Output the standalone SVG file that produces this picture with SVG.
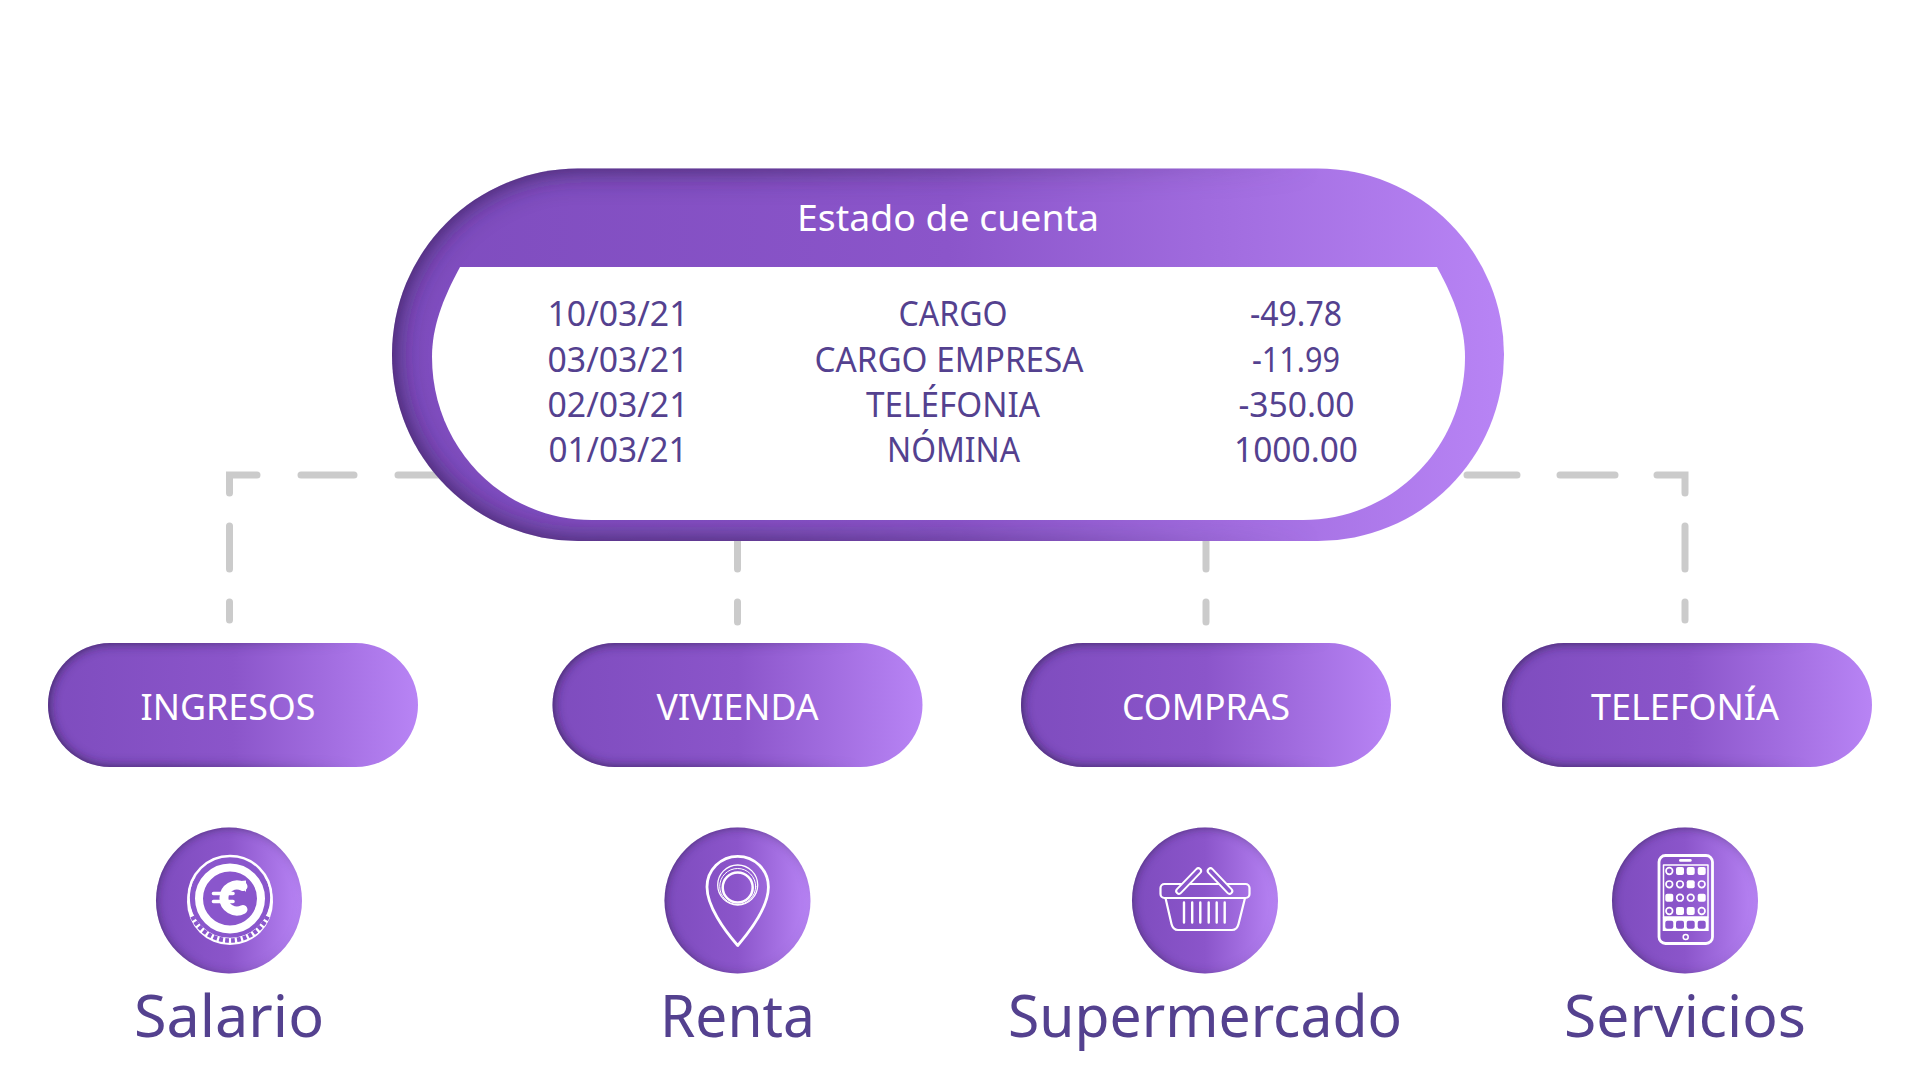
<svg xmlns="http://www.w3.org/2000/svg" width="1920" height="1080" viewBox="0 0 1920 1080">
<style>
text{font-family:"Noto Sans","Open Sans","Liberation Sans",sans-serif;text-anchor:middle}
.wl{fill:#fff;font-size:37px;font-weight:400}
.row{fill:#54418f;font-size:34px;font-weight:400}
.cap{fill:#54418f;font-size:58px;font-weight:400}
.dash{fill:none;stroke:#cbcbcb;stroke-width:7;stroke-linecap:round;stroke-linejoin:miter}
.ic{fill:none;stroke:#fff;stroke-linecap:round;stroke-linejoin:round}
.w{fill:#fff}
.p{fill:#8a56cc}
</style>
<defs>
<linearGradient id="g" x1="0" y1="0" x2="1" y2="0">
<stop offset="0" stop-color="#7e4cbe"/><stop offset=".5" stop-color="#8b55ca"/><stop offset="1" stop-color="#b884f5"/>
</linearGradient>
<linearGradient id="fadeG" x1="0" y1="0" x2="1" y2="0">
<stop offset="0" stop-color="#fff"/><stop offset=".35" stop-color="#ccc"/><stop offset=".78" stop-color="#000"/>
</linearGradient>
<linearGradient id="fadeC" x1="0" y1="0" x2="1" y2=".4">
<stop offset="0" stop-color="#bbb"/><stop offset=".5" stop-color="#999"/><stop offset=".95" stop-color="#111"/>
</linearGradient>
<mask id="fade" maskContentUnits="objectBoundingBox"><rect x="-.1" y="-.1" width="1.2" height="1.2" fill="url(#fadeG)"/></mask>
<mask id="fadeCir" maskContentUnits="objectBoundingBox"><rect x="-.1" y="-.1" width="1.2" height="1.2" fill="url(#fadeC)"/></mask>
<filter id="inL" x="-10%" y="-20%" width="120%" height="140%">
<feFlood flood-color="#2a1a48"/><feComposite operator="out" in2="SourceAlpha"/><feGaussianBlur stdDeviation="15"/><feComposite operator="in" in2="SourceAlpha"/>
</filter>
<filter id="inM" x="-10%" y="-30%" width="120%" height="160%">
<feFlood flood-color="#2a1a48"/><feComposite operator="out" in2="SourceAlpha"/><feGaussianBlur stdDeviation="6"/><feComposite operator="in" in2="SourceAlpha"/>
</filter>
<filter id="inS" x="-30%" y="-30%" width="160%" height="160%">
<feFlood flood-color="#2a1a48"/><feComposite operator="out" in2="SourceAlpha"/><feGaussianBlur stdDeviation="5"/><feComposite operator="in" in2="SourceAlpha"/>
</filter>
</defs>
<rect width="1920" height="1080" fill="#fff"/>

<g id="connectors">
<path class="dash" d="M229.500 620V602M229.500 569V526M229.500 493V475H257M301 475H354M398 475H445"/>
<path class="dash" d="M737.500 535V569M737.500 602V622"/>
<path class="dash" d="M1206 535V569M1206 602V622"/>
<path class="dash" d="M1685 620V602M1685 569V526M1685 493V475H1657M1615 475H1560M1517 475H1467"/>
</g>

<g id="estado">
<rect x="392" y="168.500" width="1112" height="372.500" rx="186" fill="url(#g)"/>
<rect x="392" y="168.500" width="1112" height="372.500" rx="186" filter="url(#inL)" mask="url(#fade)"/>
<path class="w" d="M460 267H1437C1455 300 1465 328 1465 357C1465 447 1393 520 1303 520H592C502 520 432 447 432 357C432 328 442 300 460 267Z"/>
<text class="wl" x="948" y="231" textLength="302" lengthAdjust="spacingAndGlyphs">Estado de cuenta</text>
<text class="row" x="618" y="326" textLength="141" lengthAdjust="spacingAndGlyphs">10/03/21</text>
<text class="row" x="618" y="372" textLength="141" lengthAdjust="spacingAndGlyphs">03/03/21</text>
<text class="row" x="618" y="417" textLength="141" lengthAdjust="spacingAndGlyphs">02/03/21</text>
<text class="row" x="618" y="462" textLength="139" lengthAdjust="spacingAndGlyphs">01/03/21</text>
<text class="row" x="953" y="326" textLength="109" lengthAdjust="spacingAndGlyphs">CARGO</text>
<text class="row" x="949" y="372" textLength="269" lengthAdjust="spacingAndGlyphs">CARGO EMPRESA</text>
<text class="row" x="953" y="417" textLength="174" lengthAdjust="spacingAndGlyphs">TELÉFONIA</text>
<text class="row" x="953.500" y="462" textLength="133" lengthAdjust="spacingAndGlyphs">NÓMINA</text>
<text class="row" x="1296" y="326" textLength="92" lengthAdjust="spacingAndGlyphs">-49.78</text>
<text class="row" x="1296" y="372" textLength="88" lengthAdjust="spacingAndGlyphs">-11.99</text>
<text class="row" x="1296.500" y="417" textLength="116" lengthAdjust="spacingAndGlyphs">-350.00</text>
<text class="row" x="1296" y="462" textLength="124" lengthAdjust="spacingAndGlyphs">1000.00</text>
</g>

<g id="ingresos">
<rect x="48" y="643" width="370" height="124" rx="62" fill="url(#g)"/>
<rect x="48" y="643" width="370" height="124" rx="62" filter="url(#inM)" mask="url(#fade)"/>
<text class="wl" x="228" y="720" textLength="175" lengthAdjust="spacingAndGlyphs">INGRESOS</text>
</g>
<g id="vivienda">
<rect x="552.500" y="643" width="370" height="124" rx="62" fill="url(#g)"/>
<rect x="552.500" y="643" width="370" height="124" rx="62" filter="url(#inM)" mask="url(#fade)"/>
<text class="wl" x="737.500" y="720" textLength="162" lengthAdjust="spacingAndGlyphs">VIVIENDA</text>
</g>
<g id="compras">
<rect x="1021" y="643" width="370" height="124" rx="62" fill="url(#g)"/>
<rect x="1021" y="643" width="370" height="124" rx="62" filter="url(#inM)" mask="url(#fade)"/>
<text class="wl" x="1206" y="720" textLength="168" lengthAdjust="spacingAndGlyphs">COMPRAS</text>
</g>
<g id="telefonia">
<rect x="1502" y="643" width="370" height="124" rx="62" fill="url(#g)"/>
<rect x="1502" y="643" width="370" height="124" rx="62" filter="url(#inM)" mask="url(#fade)"/>
<text class="wl" x="1685" y="720" textLength="188" lengthAdjust="spacingAndGlyphs">TELEFONÍA</text>
</g>

<g id="salario">
<circle cx="229" cy="900.500" r="73" fill="url(#g)"/>
<circle cx="229" cy="900.500" r="73" filter="url(#inS)" mask="url(#fadeCir)"/>
<circle class="w" cx="230" cy="902" r="43"/>
<circle class="p" cx="230" cy="898" r="40.500"/>
<circle class="ic" cx="230" cy="897.500" r="41.500" stroke-width="2.400"/>
<path fill="none" stroke="#8a56cc" stroke-width="4.500" stroke-dasharray="3.800 2.200" d="M192.400 916.500A41.500 41.500 0 0 0 267.600 916.500"/>
<circle class="ic" cx="230" cy="898.500" r="31" stroke-width="8"/>
<path class="ic" d="M243 886.500A13 13 0 1 0 243 909.500" stroke-width="9" stroke-linecap="butt"/>
<path class="w" d="M236 881.500L246 880.500V892Z"/>
<path class="ic" d="M213.500 893.500H233M213.500 901.500H233" stroke-width="3.600" stroke-linecap="butt"/>
<text class="cap" x="229" y="1037" textLength="190" lengthAdjust="spacingAndGlyphs">Salario</text>
</g>

<g id="renta">
<circle cx="737.500" cy="900.500" r="73" fill="url(#g)"/>
<circle cx="737.500" cy="900.500" r="73" filter="url(#inS)" mask="url(#fadeCir)"/>
<path class="ic" stroke-width="2.800" stroke-linejoin="miter" d="M737.700 945.500C724 930 707 906 707 887A30.700 30.700 0 0 1 768.400 887C768.400 906 751 930 737.700 945.500Z"/>
<circle class="ic" cx="737.700" cy="885" r="20" stroke-width="1.300"/>
<circle class="ic" cx="737.700" cy="886.500" r="18" stroke-width="1"/>
<circle class="ic" cx="737.700" cy="887.500" r="15" stroke-width="2.500"/>
<text class="cap" x="737.500" y="1037" textLength="155" lengthAdjust="spacingAndGlyphs">Renta</text>
</g>

<g id="supermercado">
<circle cx="1205" cy="900.500" r="73" fill="url(#g)"/>
<circle cx="1205" cy="900.500" r="73" filter="url(#inS)" mask="url(#fadeCir)"/>
<rect class="ic" x="1160.500" y="884" width="89" height="14" rx="4" stroke-width="2.200"/>
<path class="ic" stroke-width="2.200" d="M1165.500 898L1171.500 924Q1173 930 1178 930H1232Q1237 930 1238.500 924L1245 898"/>
<path class="ic" stroke-width="2.400" stroke-linecap="butt" d="M1184 902.500V922.500M1192.200 902.500V922.500M1200.300 902.500V922.500M1208.700 902.500V922.500M1216.700 902.500V922.500M1224.700 902.500V922.500"/>
<path class="ic" stroke-width="7.500" d="M1179 891L1198.300 871M1210.500 871L1229.500 891"/>
<path class="ic" stroke-width="3.500" style="stroke:#8a56cc" d="M1179 891L1198.300 871M1210.500 871L1229.500 891"/>
<text class="cap" x="1205" y="1037" textLength="394" lengthAdjust="spacingAndGlyphs">Supermercado</text>
</g>

<g id="servicios">
<circle cx="1685" cy="900.500" r="73" fill="url(#g)"/>
<circle cx="1685" cy="900.500" r="73" filter="url(#inS)" mask="url(#fadeCir)"/>
<rect class="ic" x="1659" y="855.500" width="53.500" height="88" rx="6.500" stroke-width="2.800"/>
<rect class="w" x="1679" y="859" width="12.700" height="2.800" rx="1.400"/>
<rect class="ic" x="1663.500" y="865" width="44.500" height="52" stroke-width="1.500" stroke-linejoin="miter"/>
<rect class="w" x="1662.700" y="917" width="46" height="14"/>
<g class="w">
<rect x="1686.700" y="867" width="8" height="8" rx="2"/><rect x="1697.700" y="867" width="8" height="8" rx="2"/><rect x="1676" y="867" width="8" height="8" rx="2"/>
<rect x="1686.700" y="880.300" width="8" height="8" rx="2"/>
<rect x="1665.300" y="893.700" width="8" height="8" rx="2"/><rect x="1697.700" y="893.700" width="8" height="8" rx="2"/>
<rect x="1676" y="907" width="8" height="8" rx="2"/><rect x="1686.700" y="907" width="8" height="8" rx="2"/>
</g>
<g class="ic" stroke-width="1.700">
<circle cx="1669.300" cy="871" r="3.300"/>
<circle cx="1669.300" cy="884.300" r="3.300"/><circle cx="1680" cy="884.300" r="3.300"/><circle cx="1701.700" cy="884.300" r="3.300"/>
<circle cx="1680" cy="897.700" r="3.300"/><circle cx="1690.700" cy="897.700" r="3.300"/>
<circle cx="1669.300" cy="911" r="3.300"/><circle cx="1701.700" cy="911" r="3.300"/>
</g>
<g class="p">
<rect x="1665.300" y="920.700" width="8" height="8" rx="2"/><rect x="1676" y="920.700" width="8" height="8" rx="2"/><rect x="1686.700" y="920.700" width="8" height="8" rx="2"/><rect x="1697.700" y="920.700" width="8" height="8" rx="2"/>
</g>
<circle class="ic" cx="1685.700" cy="937" r="2.500" stroke-width="1.500"/>
<text class="cap" x="1685" y="1037" textLength="242" lengthAdjust="spacingAndGlyphs">Servicios</text>
</g>
</svg>
